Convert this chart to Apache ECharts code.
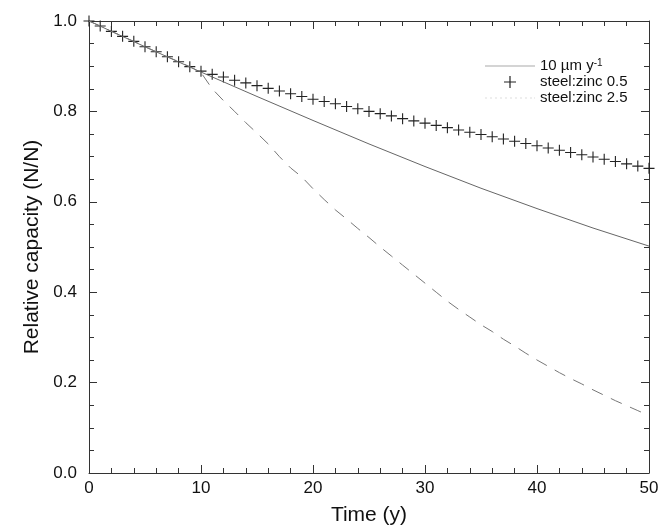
<!DOCTYPE html>
<html>
<head>
<meta charset="utf-8">
<script src="https://cdn.jsdelivr.net/npm/echarts@6/dist/echarts.min.js"></script>
<style>
  html, body { margin: 0; padding: 0; background: #fff; }
  #capacityChart { width: 665px; height: 531px; }
</style>
</head>
<body>
<div id="capacityChart"></div>
<script>
// time axis (years) for the straight-ish loss line
const lineYears = [0, 5, 10, 15, 20, 25, 30, 35, 40, 45, 50];
const lossLine = [1.0, 0.943, 0.887, 0.833, 0.78, 0.728, 0.678, 0.63, 0.585, 0.542, 0.502];

// yearly points for the two steel:zinc ratios
const years = Array.from(new Array(51).keys());
const zinc05 = [
  1.0, 0.989, 0.977, 0.966, 0.955, 0.943, 0.932, 0.921, 0.91, 0.899,
  0.889, 0.882, 0.876, 0.869, 0.863, 0.857, 0.851, 0.845, 0.839, 0.833,
  0.827, 0.822, 0.817, 0.811, 0.806, 0.8, 0.795, 0.79, 0.784, 0.779,
  0.774, 0.769, 0.764, 0.759, 0.754, 0.749, 0.744, 0.739, 0.734, 0.729,
  0.724, 0.719, 0.714, 0.709, 0.704, 0.699, 0.694, 0.689, 0.684, 0.679,
  0.674,
];
const zinc25 = [
  1.0, 0.989, 0.977, 0.966, 0.955, 0.943, 0.932, 0.921, 0.91, 0.899,
  0.886, 0.85, 0.824, 0.8, 0.775, 0.752, 0.728, 0.7, 0.675, 0.655,
  0.629, 0.605, 0.582, 0.562, 0.541, 0.521, 0.5, 0.48, 0.46, 0.44,
  0.42, 0.4, 0.38, 0.362, 0.345, 0.328, 0.313, 0.296, 0.281, 0.265,
  0.25, 0.236, 0.222, 0.209, 0.197, 0.184, 0.172, 0.16, 0.149, 0.138,
  0.127,
];

const seriesNames = ["10 µm y-1", "steel:zinc 0.5", "steel:zinc 2.5"];
const fontFamily = "Liberation Sans, Arial, sans-serif";
const plusIcon = "path://M4.5,0H5.5V4.5H10V5.5H5.5V10H4.5V5.5H0V4.5H4.5Z";
// legend samples: a thin solid stroke and a faint dotted stroke
const solidIcon = "path://M0,0H50V1H0Z";
const dottedIcon =
  "path://M0,0H2V1H0ZM5,0H7V1H5ZM10,0H12V1H10ZM15,0H17V1H15ZM20,0H22V1H20ZM25,0H27V1H25Z" +
  "M30,0H32V1H30ZM35,0H37V1H35ZM40,0H42V1H40ZM45,0H47V1H45ZM49,0H50V1H49Z";

const pair = (xs, ys) => xs.map((x, i) => [x, ys[i]]);

const boxAxis = {
  axisLine: { show: true, onZero: false, lineStyle: { color: "#333", width: 1 } },
  axisTick: { show: true, inside: true, length: 8, lineStyle: { color: "#333" } },
  splitLine: { show: false },
};
const xMinor = { show: true, splitNumber: 5, length: 5, lineStyle: { color: "#333" } };
const yMinor = { show: true, splitNumber: 4, length: 5, lineStyle: { color: "#333" } };

const capacityChart = echarts.init(document.getElementById("capacityChart"));
capacityChart.setOption({
  animation: false,
  backgroundColor: "#fff",
  textStyle: { fontFamily: fontFamily },
  grid: { left: 89, right: 16, top: 21, bottom: 58 },
  legend: {
    orient: "vertical",
    left: 480,
    top: 53,
    itemWidth: 50,
    itemHeight: 12,
    itemGap: 0,
    data: [
      { name: seriesNames[0], icon: solidIcon, itemStyle: { color: "#aaa" } },
      { name: seriesNames[1], icon: plusIcon, itemStyle: { color: "#222" } },
      { name: seriesNames[2], icon: dottedIcon, itemStyle: { color: "#ddd" } },
    ],
    formatter: (name) => {
      if (name === seriesNames[0]) return "10 µm y{sup|-1}";
      return name;
    },
    textStyle: {
      color: "#111",
      fontSize: 15,
      lineHeight: 16,
      fontFamily: fontFamily,
      rich: {
        sup: { fontSize: 10, verticalAlign: "top", lineHeight: 10, color: "#111" },
      },
    },
  },
  xAxis: [
    {
      type: "value",
      min: 0,
      max: 50,
      interval: 10,
      ...boxAxis,
      minorTick: xMinor,
      axisLabel: { color: "#111", fontSize: 17, margin: 7 },
      name: "Time (y)",
      nameLocation: "middle",
      nameGap: 32,
      nameTextStyle: { color: "#111", fontSize: 21 },
    },
    {
      type: "value",
      position: "top",
      min: 0,
      max: 50,
      interval: 10,
      ...boxAxis,
      minorTick: xMinor,
      axisLabel: { show: false },
    },
  ],
  yAxis: [
    {
      type: "value",
      min: 0,
      max: 1,
      interval: 0.2,
      ...boxAxis,
      minorTick: yMinor,
      axisLabel: {
        color: "#111",
        fontSize: 17,
        margin: 12,
        formatter: (v) => v.toFixed(1),
      },
      name: "Relative capacity (N/N)",
      nameLocation: "middle",
      nameGap: 44,
      nameTextStyle: { color: "#111", fontSize: 21 },
    },
    {
      type: "value",
      position: "right",
      min: 0,
      max: 1,
      interval: 0.2,
      ...boxAxis,
      minorTick: yMinor,
      axisLabel: { show: false },
    },
  ],
  series: [
    {
      name: seriesNames[0],
      type: "line",
      symbol: "none",
      data: pair(lineYears, lossLine),
      itemStyle: { color: "#666" },
      lineStyle: { color: "#666", width: 1 },
    },
    {
      name: seriesNames[1],
      type: "scatter",
      symbol: plusIcon,
      symbolSize: 11,
      symbolKeepAspect: true,
      data: pair(years, zinc05),
      itemStyle: { color: "#222", opacity: 1 },
    },
    {
      name: seriesNames[2],
      type: "line",
      symbol: "none",
      data: pair(years, zinc25),
      itemStyle: { color: "#777" },
      lineStyle: { color: "#777", width: 1, type: [12, 9] },
    },
  ],
});
window.addEventListener("resize", () => {
  capacityChart.resize();
});
</script>
</body>
</html>
